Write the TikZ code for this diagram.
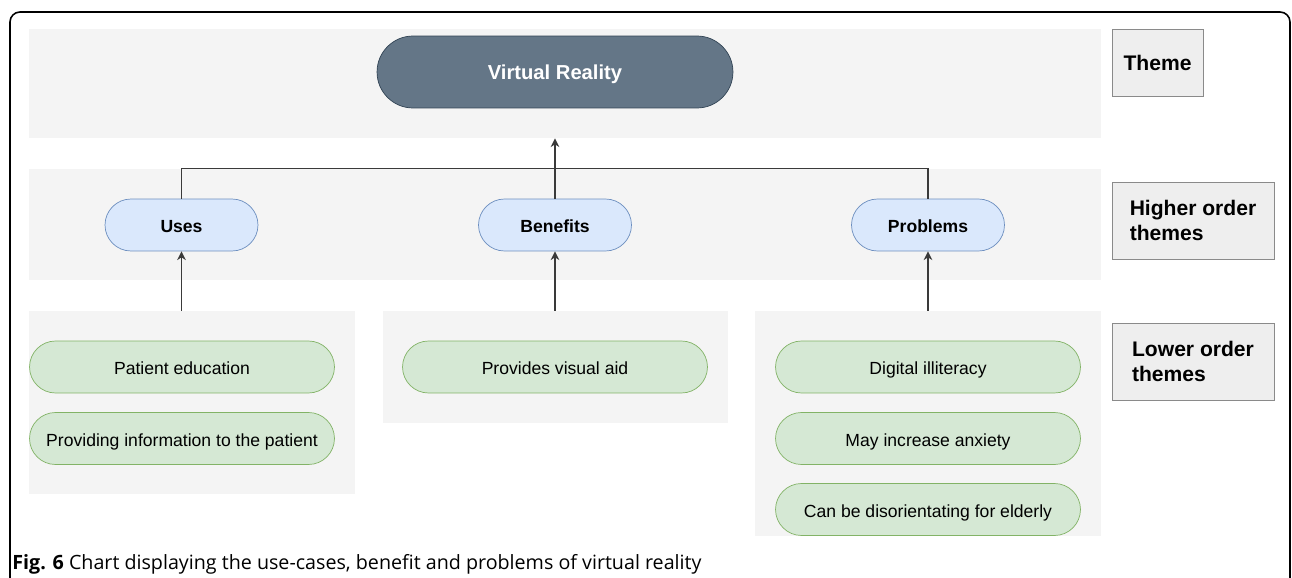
\documentclass[tikz,border=0pt]{standalone}
\usepackage{fontspec}
\setmainfont{Liberation Sans}
\newfontfamily\capfont{Open Sans}
\usetikzlibrary{arrows.meta}

\definecolor{bandgray}{HTML}{F4F4F4}
\definecolor{vrfill}{HTML}{647687}
\definecolor{vrline}{HTML}{314354}
\definecolor{hifill}{HTML}{DAE8FC}
\definecolor{hiline}{HTML}{6C8EBF}
\definecolor{lofill}{HTML}{D5E8D4}
\definecolor{loline}{HTML}{82B366}
\definecolor{lblfill}{HTML}{EEEEEE}
\definecolor{lblline}{HTML}{8A8A8A}
\definecolor{linkcol}{HTML}{3A3A3A}

\begin{document}
\begin{tikzpicture}[x=0.02cm, y=-0.02cm,
	band/.style={fill=bandgray, draw=none, inner sep=0pt},
	vrnode/.style={draw=vrline, fill=vrfill, text=white, rounded corners=0.72cm, text height=1.9ex, text depth=0.38ex,
		minimum width=7.12cm, minimum height=1.44cm, font=\fontsize{11.5}{14}\selectfont\bfseries},
	hinode/.style={draw=hiline, fill=hifill, rounded corners=0.52cm, text height=2ex, text depth=0.36ex,
		minimum width=3.06cm, minimum height=1.04cm, font=\fontsize{10}{12}\selectfont\bfseries},
	lonode/.style={draw=loline, fill=lofill, rounded corners=0.52cm, text height=2ex, text depth=0.36ex,
		minimum width=6.1cm, minimum height=1.04cm, font=\fontsize{10}{12}\selectfont},
	lblbox/.style={draw=lblline, fill=lblfill, minimum height=1.54cm, align=left,
		font=\fontsize{12}{14.2}\selectfont\bfseries},
	link/.style={draw=linkcol, line width=0.7pt},
	uparrow/.style={link, -{Stealth[length=5pt, width=5pt]}}]
			%%%%% START %%%%%
			
			\useasboundingbox (0, 0) rectangle (1292, 578);
			
			% frame, open at the bottom
			\draw[line width=0.9pt, rounded corners=0.2cm] (10, 580) -- (10, 12) -- (1290, 12) -- (1290, 580);
			
			% gray bands
			\node[band, minimum width=21.44cm, minimum height=2.18cm] (themeband) at (565, 83.5) {};
			\node[band, minimum width=21.44cm, minimum height=2.22cm] (higherband) at (565, 224.5) {};
			\node[band, minimum width=6.52cm, minimum height=3.66cm] (usesgrp) at (192, 402.5) {};
			\node[band, minimum width=6.9cm, minimum height=2.24cm] (benefitsgrp) at (555.5, 367) {};
			\node[band, minimum width=6.92cm, minimum height=4.5cm] (problemsgrp) at (928, 423.5) {};
			
			% theme
			\node[vrnode] (vr) at (555, 72) {Virtual Reality};
			
			% higher order themes
			\node[hinode] (uses) at (181.5, 225) {Uses};
			\node[hinode] (benefits) at (555, 225) {Benefits};
			\node[hinode] (problems) at (928, 225) {Problems};
			
			% lower order themes
			\node[lonode] (educ) at (182, 367) {Patient education};
			\node[lonode] (info) at (182, 438.5) {Providing information to the patient};
			\node[lonode] (visual) at (555, 367) {Provides visual aid};
			\node[lonode] (illit) at (928, 367) {Digital illiteracy};
			\node[lonode] (anxiety) at (928, 438.5) {May increase anxiety};
			\node[lonode] (disorient) at (928, 509.5) {Can be disorientating for elderly};
			
			% level labels
			\node[lblbox, minimum width=1.82cm, minimum height=1.34cm] (lblTheme) at (1157.5, 62.5) {Theme};
			\node[lblbox, minimum width=3.24cm] (lblHigher) at (1193, 220.5) {Higher order\\themes};
			\node[lblbox, minimum width=3.24cm] (lblLower) at (1193, 361.5) {Lower order\\themes};
			
			% connectors
			\coordinate (hjoin) at (higherband.north -| benefits);
			\draw[link] (uses.north) |- (hjoin);
			\draw[link] (problems.north) |- (hjoin);
			\draw[uparrow] (benefits.north) -- (themeband.south -| benefits);
			\draw[uparrow] (usesgrp.north -| uses) -- (uses.south);
			\draw[uparrow] (benefitsgrp.north -| benefits) -- (benefits.south);
			\draw[uparrow] (problemsgrp.north -| problems) -- (problems.south);
			
			% caption
			\node[anchor=base west, inner sep=0pt, font=\capfont\fontsize{11.2}{13}\selectfont] (caption) at (12, 569)
				{\textbf{Fig. 6} Chart displaying the use-cases, benefit and problems of virtual reality};
			
			%%%%% END %%%%%
\end{tikzpicture}
\end{document}
